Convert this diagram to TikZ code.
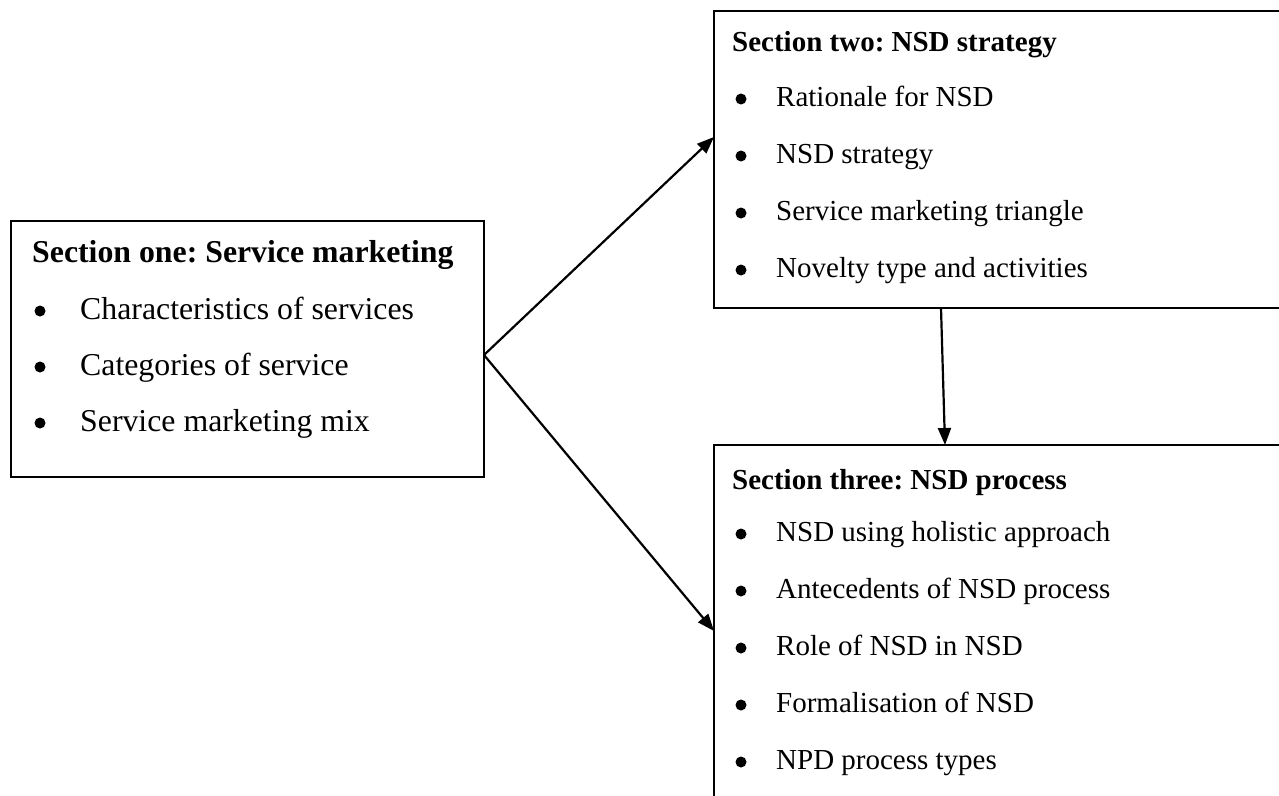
\documentclass[tikz,border=0pt]{standalone}
\usepackage{fontspec}
\setmainfont{Liberation Serif}
\usetikzlibrary{arrows.meta,calc}
\frenchspacing
\begin{document}
\begin{tikzpicture}[x=1pt,y=-1pt,
  sectionbox/.style={draw=black, line width=2.4pt, anchor=north west, inner sep=0pt, outer sep=0pt},
  textline/.style={anchor=base west, inner sep=0pt},
  heading/.style={textline, font=\fontsize{31.8}{38}\selectfont\bfseries},
  item/.style={textline, font=\fontsize{31.8}{38}\selectfont},
  subheading/.style={textline, font=\fontsize{29}{35}\selectfont\bfseries},
  subitem/.style={textline, font=\fontsize{29}{35}\selectfont},
  dot/.style={circle, fill=black, minimum size=11pt, inner sep=0pt},
  link/.style={line width=2.2pt, -{Triangle[length=17pt,width=13pt]}}]
\useasboundingbox (0,0) rectangle (1279,795);
\fill[white] (0,0) rectangle (1279,795);

% Section one
\node[sectionbox, minimum width=473pt, minimum height=256pt] (s1) at (11,221) {};
\node[heading] (s1h) at (32,262.5) {Section one: Service marketing};
\node[dot] (s1d1) at (40,311) {};
\node[item] (s1i1) at (80,319.5) {Characteristics of services};
\node[dot] (s1d2) at (40,367) {};
\node[item] (s1i2) at (80,375.5) {Categories of service};
\node[dot] (s1d3) at (40,423) {};
\node[item] (s1i3) at (80,431.5) {Service marketing mix};

% Section two
\node[sectionbox, minimum width=600pt, minimum height=297pt] (s2) at (714,11) {};
\node[subheading] (s2h) at (732,51) {Section two: NSD strategy};
\node[dot] (s2d1) at (741,99) {};
\node[subitem] (s2i1) at (776,106.8) {Rationale for NSD};
\node[dot] (s2d2) at (741,156) {};
\node[subitem] (s2i2) at (776,163.8) {NSD strategy};
\node[dot] (s2d3) at (741,213) {};
\node[subitem] (s2i3) at (776,220.8) {Service marketing triangle};
\node[dot] (s2d4) at (741,270) {};
\node[subitem] (s2i4) at (776,277.8) {Novelty type and activities};

% Section three
\node[sectionbox, minimum width=600pt, minimum height=360pt] (s3) at (714,445) {};
\node[subheading] (s3h) at (732,489) {Section three: NSD process};
\node[dot] (s3d1) at (741,534) {};
\node[subitem] (s3i1) at (776,541.8) {NSD using holistic approach};
\node[dot] (s3d2) at (741,591) {};
\node[subitem] (s3i2) at (776,598.8) {Antecedents of NSD process};
\node[dot] (s3d3) at (741,648) {};
\node[subitem] (s3i3) at (776,655.8) {Role of NSD in NSD};
\node[dot] (s3d4) at (741,705) {};
\node[subitem] (s3i4) at (776,712.8) {Formalisation of NSD};
\node[dot] (s3d5) at (741,762) {};
\node[subitem] (s3i5) at (776,769.8) {NPD process types};

% Connectors
\coordinate (fork) at ($(s1.north east)+(0,134)$);
\coordinate (s2in) at ($(s2.north west)+(0,126)$);
\coordinate (s3in) at ($(s3.north west)+(0,186)$);
\coordinate (s2out) at ($(s2.south west)+(227,0)$);
\coordinate (s3top) at ($(s3.north west)+(231,0)$);
\draw[link] (fork) -- (s2in);
\draw[link] (fork) -- (s3in);
\draw[link] (s2out) -- (s3top);
\end{tikzpicture}
\end{document}
